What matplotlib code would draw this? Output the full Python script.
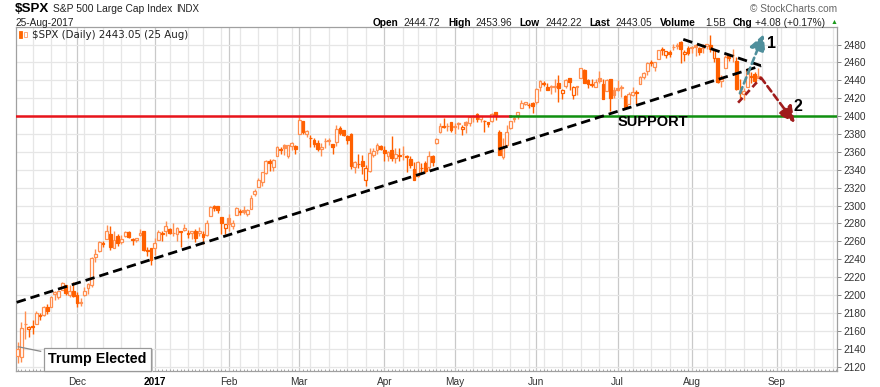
import numpy as np
import pandas as pd
import matplotlib
matplotlib.use("Agg")
import matplotlib.pyplot as plt
from matplotlib.patches import Rectangle

# ---------------- data ----------------
holidays = ['2016-11-24', '2016-12-26', '2017-01-02', '2017-01-16', '2017-02-20',
            '2017-04-14', '2017-05-29', '2017-07-04', '2017-09-04']

opens = [2132, 2131, 2167, 2162, 2165, 2168, 2177, 2178, 2187, 2186, 2201, 2198, 2206, 2211, 2200, 2205,
         2200, 2191, 2200, 2208, 2211, 2242, 2249, 2258, 2263, 2268, 2253, 2266, 2259, 2266, 2270, 2263,
         2261, 2267, 2271, 2250, 2252,
         2252, 2261, 2268, 2271, 2274, 2269, 2268, 2271, 2273, 2269, 2269, 2272, 2269, 2268, 2267, 2288,
         2299, 2299, 2287, 2275,
         2286, 2277, 2289, 2294, 2295, 2290, 2296, 2313, 2321, 2326, 2336, 2350, 2343, 2355, 2362, 2368,
         2355, 2366, 2367,
         2380, 2394, 2380, 2376, 2373, 2370, 2363, 2372, 2372, 2369, 2371, 2387, 2384, 2378, 2380, 2343,
         2346, 2350, 2329, 2339, 2357, 2362, 2366,
         2362, 2355, 2362, 2353, 2356, 2358, 2355, 2352, 2341, 2333, 2342, 2347, 2343, 2355, 2370, 2382,
         2389, 2389, 2393,
         2388, 2392, 2386, 2393, 2392, 2399, 2402, 2397, 2394, 2393, 2394, 2405, 2382, 2354, 2368, 2387,
         2397, 2401, 2409, 2414, 2412, 2415,
         2416, 2432, 2437, 2432, 2432, 2433, 2437, 2426, 2434, 2443, 2424, 2432, 2443, 2452, 2440, 2436,
         2433, 2443, 2436, 2428, 2442, 2429,
         2431, 2431, 2423, 2414, 2424, 2427, 2436, 2444, 2450, 2460, 2455, 2464, 2475, 2468, 2472, 2477,
         2480, 2483, 2469, 2476,
         2477, 2480, 2476, 2476, 2478, 2479, 2465, 2465, 2439, 2454, 2469, 2468, 2462, 2427, 2425, 2433,
         2445, 2447, 2444.7]

highs = [2147, 2170, 2182, 2165, 2172, 2182, 2180, 2188, 2190, 2199, 2204, 2205, 2214, 2211, 2211, 2214,
         2203, 2197, 2209, 2213, 2242, 2251, 2260, 2260, 2278, 2277, 2272, 2268, 2267, 2272, 2271, 2264,
         2264, 2274, 2272, 2254, 2253,
         2264, 2273, 2271, 2283, 2275, 2280, 2276, 2272, 2279, 2273, 2272, 2274, 2276, 2272, 2284, 2299,
         2301, 2299, 2287, 2279,
         2290, 2284, 2298, 2296, 2300, 2296, 2312, 2319, 2331, 2338, 2351, 2352, 2352, 2367, 2365, 2369,
         2368, 2371, 2368,
         2401, 2394, 2385, 2379, 2375, 2373, 2370, 2376, 2375, 2369, 2390, 2389, 2385, 2379, 2381, 2350,
         2358, 2357, 2345, 2364, 2364, 2370, 2368,
         2366, 2361, 2378, 2364, 2364, 2367, 2356, 2355, 2349, 2350, 2348, 2350, 2361, 2356, 2376, 2392,
         2398, 2392, 2393,
         2392, 2393, 2390, 2394, 2400, 2401, 2404, 2400, 2396, 2393, 2404, 2405, 2385, 2376, 2390, 2395,
         2400, 2405, 2418, 2416, 2415, 2416,
         2431, 2440, 2439, 2437, 2435, 2441, 2446, 2430, 2441, 2443, 2434, 2434, 2454, 2453, 2442, 2441,
         2441, 2450, 2441, 2442, 2442, 2432,
         2440, 2435, 2424, 2427, 2432, 2429, 2445, 2449, 2460, 2463, 2461, 2474, 2477, 2473, 2474, 2481,
         2482, 2484, 2474, 2478,
         2478, 2481, 2477, 2481, 2481, 2491, 2475, 2465, 2446, 2468, 2469, 2475, 2466, 2441, 2431, 2454,
         2449, 2449, 2454.0]

lows = [2124, 2125, 2151, 2153, 2156, 2168, 2172, 2176, 2179, 2186, 2194, 2195, 2206, 2200, 2198, 2198,
        2187, 2188, 2199, 2201, 2209, 2237, 2248, 2254, 2263, 2250, 2252, 2255, 2257, 2265, 2264, 2256,
        2259, 2266, 2249, 2244, 2233,
        2245, 2261, 2260, 2266, 2268, 2266, 2260, 2254, 2272, 2264, 2263, 2259, 2266, 2257, 2266, 2288,
        2294, 2292, 2268, 2268,
        2271, 2274, 2289, 2289, 2290, 2288, 2296, 2311, 2321, 2322, 2335, 2339, 2339, 2355, 2358, 2356,
        2353, 2362, 2358,
        2380, 2380, 2377, 2365, 2365, 2361, 2355, 2364, 2368, 2358, 2366, 2379, 2378, 2369, 2341, 2336,
        2342, 2335, 2322, 2337, 2354, 2358, 2362,
        2350, 2350, 2350, 2348, 2350, 2351, 2338, 2342, 2328, 2332, 2335, 2336, 2340, 2344, 2369, 2381,
        2387, 2383, 2382,
        2380, 2386, 2379, 2381, 2389, 2393, 2393, 2393, 2382, 2388, 2393, 2396, 2356, 2352, 2367, 2386,
        2393, 2397, 2409, 2412, 2409, 2403,
        2413, 2428, 2434, 2429, 2425, 2427, 2416, 2419, 2431, 2429, 2419, 2424, 2443, 2437, 2431, 2432,
        2432, 2437, 2419, 2428, 2406, 2420,
        2428, 2421, 2408, 2413, 2422, 2413, 2436, 2442, 2446, 2456, 2450, 2464, 2468, 2465, 2466, 2474,
        2475, 2459, 2462, 2468,
        2471, 2467, 2468, 2470, 2475, 2472, 2461, 2437, 2432, 2454, 2462, 2460, 2429, 2420, 2418, 2433,
        2437, 2437, 2442.2]

closes = [2139.6, 2163.3, 2167.5, 2164.5, 2164.2, 2180.4, 2176.9, 2187.1, 2181.9, 2198.2, 2202.9, 2204.7,
          2213.4, 2201.7, 2204.7, 2198.8,
          2191.1, 2192.0, 2204.7, 2212.2, 2241.4, 2246.2, 2259.5, 2257.0, 2271.7, 2253.3, 2262.0, 2258.1,
          2262.5, 2270.8, 2265.2, 2261.0, 2263.8, 2268.9, 2249.9, 2249.3, 2238.8,
          2257.8, 2270.8, 2269.0, 2277.0, 2268.9, 2268.9, 2275.3, 2270.4, 2274.6, 2267.9, 2271.9, 2263.7,
          2271.3, 2265.2, 2280.1, 2298.4, 2296.7, 2294.7, 2280.9, 2278.9,
          2279.6, 2280.9, 2297.4, 2292.6, 2293.1, 2294.7, 2307.9, 2316.1, 2328.3, 2337.6, 2349.3, 2347.2,
          2351.2, 2365.4, 2362.8, 2363.8, 2367.3, 2369.8, 2363.6,
          2396.0, 2381.9, 2383.1, 2375.3, 2368.4, 2363.0, 2364.9, 2372.6, 2373.5, 2365.5, 2385.3, 2381.4,
          2378.3, 2373.5, 2344.0, 2348.5, 2346.0, 2344.0, 2341.6, 2358.6, 2361.1, 2368.1, 2362.7,
          2358.8, 2360.2, 2353.0, 2357.5, 2355.5, 2357.2, 2353.8, 2344.9, 2329.0, 2349.0, 2342.2, 2338.2,
          2355.8, 2348.7, 2374.2, 2388.6, 2387.5, 2388.8, 2384.2,
          2388.3, 2391.2, 2388.1, 2389.5, 2399.3, 2399.4, 2396.9, 2399.6, 2394.4, 2390.9, 2402.3, 2400.7,
          2357.0, 2365.7, 2381.7, 2394.0, 2398.4, 2404.4, 2415.1, 2415.8, 2412.9, 2411.8,
          2430.1, 2439.1, 2436.1, 2429.3, 2433.1, 2433.8, 2431.8, 2429.4, 2440.4, 2437.9, 2432.5, 2433.2,
          2453.5, 2437.0, 2435.6, 2434.5, 2438.3, 2439.1, 2419.4, 2440.7, 2419.7, 2423.4,
          2429.0, 2432.5, 2409.8, 2425.2, 2427.4, 2425.5, 2443.3, 2447.8, 2459.3, 2459.1, 2460.6, 2473.8,
          2473.5, 2472.5, 2469.9, 2477.1, 2477.8, 2475.4, 2472.1, 2470.3,
          2476.4, 2477.6, 2472.2, 2476.8, 2480.9, 2474.9, 2474.0, 2438.2, 2441.3, 2465.8, 2464.6, 2468.1,
          2430.0, 2425.6, 2428.4, 2452.5, 2444.0, 2439.0, 2443.05]

y_ticks = [2120, 2140, 2160, 2180, 2200, 2220, 2240, 2260, 2280, 2300, 2320, 2340, 2360, 2380,
           2400, 2420, 2440, 2460, 2480]
support_level = 2400

# dates (trading days) incl. future days for the right margin of the axis
all_days = pd.bdate_range('2016-11-08', '2017-09-29')
all_days = all_days[~all_days.isin(pd.to_datetime(holidays))]
n = len(closes)

# ---------------- figure ----------------
W, H = 880, 387
fig = plt.figure(figsize=(W / 100, H / 100), dpi=100)
plt.rcParams['font.family'] = ['Liberation Sans', 'DejaVu Sans']

L, R, T, B = 16, 837, 27, 371
ax = fig.add_axes([L / W, 1 - B / H, (R - L) / W, (B - T) / H])
ax.set_xlim(-0.46, 221.2)
ax.set_ylim(2115.0, 2499.6)

# grid: weekly lines & month lines
weeks = all_days.to_series().dt.isocalendar().week.values
years = all_days.year
months = all_days.month
for i in range(1, len(all_days)):
    if months[i] != months[i - 1]:
        ax.axvline(i, color='#c9c9c9', lw=0.9, zorder=0)
    elif weeks[i] != weeks[i - 1]:
        ax.axvline(i, color='#e6e6e6', lw=0.9, zorder=0)
for yv in y_ticks:
    ax.axhline(yv, color='#e6e6e6', lw=0.9, zorder=0)

# candles
up_col = '#ff8f50'
dn_col = '#ff6000'
w = 0.75
for i in range(n):
    o, h, l, c = opens[i], highs[i], lows[i], closes[i]
    prev = closes[i - 1] if i > 0 else o
    col = dn_col if c < prev else up_col
    ax.vlines(i, min(l, o, c), max(h, o, c), color=col, lw=1.0, zorder=3)
    fill = col if c < o else 'white'
    ax.add_patch(Rectangle((i - w / 2, min(o, c)), w, max(abs(c - o), 0.5),
                           facecolor=fill, edgecolor=col, lw=0.9, zorder=4))

# support line
split = 132.9
ax.plot([-0.46, split], [support_level, support_level], color='#e8141b', lw=1.8, zorder=5)
ax.plot([split, 221.2], [support_level, support_level], color='#109010', lw=1.8, zorder=5)

# trend lines
dash = (0, (3.4, 1.8))
ax.plot([-0.27, 200.7], [2191.8, 2456.3], color='black', lw=2.0, ls=dash, zorder=6)
ax.plot([179.7, 200.7], [2485.8, 2456.3], color='black', lw=2.0, ls=dash, zorder=6)

# scenario arrows
aprops = dict(arrowstyle='-|>,head_length=0.75,head_width=0.38', lw=1.9,
              ls=(0, (2.5, 1.5)), shrinkA=0, shrinkB=0, mutation_scale=13)
teal = '#4f8f9c'
ax.annotate('', xy=(201.4, 2491.5), xytext=(195.0, 2425.5),
            arrowprops=dict(color=teal, **aprops), zorder=7)
dred = '#a01c1c'
ax.plot([194.5, 200.7], [2415.0, 2442.9], color=dred, lw=1.9, ls=(0, (2.5, 1.5)), zorder=7)
ax.annotate('', xy=(209.8, 2392.5), xytext=(200.7, 2442.9),
            arrowprops=dict(color=dred, **aprops), zorder=7)
ax.text(203.6, 2480.6, '1', fontsize=11.5, fontweight='bold', ha='center', va='center', zorder=8)
ax.text(210.7, 2410.5, '2', fontsize=11.5, fontweight='bold', ha='center', va='center', zorder=8)
ax.text(171.4, 2393.2, 'SUPPORT', fontsize=10.5, fontweight='bold', ha='center', va='center', zorder=8)

# Trump Elected callout
ax.plot([0.16, 6.2], [2142.1, 2137.0], color='#888888', lw=0.9, zorder=8)
ax.text(21.5, 2128.2, 'Trump Elected', fontsize=10.3, fontweight='bold', ha='center', va='center',
        color='none', zorder=8,
        bbox=dict(boxstyle='square,pad=0.32', fc='#c8c8c8', ec='none'),
        transform=ax.transData + matplotlib.transforms.ScaledTranslation(1.5 / 100, -1.5 / 100,
                                                                         fig.dpi_scale_trans))
ax.text(21.5, 2128.2, 'Trump Elected', fontsize=10.3, fontweight='bold', ha='center', va='center',
        zorder=9, bbox=dict(boxstyle='square,pad=0.32', fc='white', ec='#999999', lw=0.9))

# axes styling
for s in ax.spines.values():
    s.set_color('#a0a0a0')
    s.set_linewidth(0.9)
ax.yaxis.tick_right()
ax.set_yticks(y_ticks)
ax.set_yticklabels([str(v) for v in y_ticks], fontsize=7.3, color='#333333')
ax.tick_params(axis='y', length=3, width=0.7, color='#888888', pad=1.5)

month_pos, month_lab = [], []
for i in range(1, len(all_days)):
    if months[i] != months[i - 1]:
        month_pos.append(i)
        month_lab.append(str(years[i]) if months[i] == 1 else all_days[i].strftime('%b'))
ax.set_xticks(month_pos)
ax.set_xticklabels(month_lab, fontsize=7.3, color='#333333')
for t in ax.get_xticklabels():
    if t.get_text().isdigit():
        t.set_fontweight('bold')
        t.set_color('black')
ax.tick_params(axis='x', length=0, pad=4)
ax.set_xticks(np.arange(0, 222), minor=True)
ax.tick_params(axis='x', which='minor', length=1.5, width=0.6, color='#999999', direction='in')


# ---------------- header texts ----------------
def ftxt(x, y, s, **kw):
    fig.text(x / W, 1 - y / H, s, va='center', ha=kw.pop('ha', 'left'), **kw)


ftxt(15, 8.5, '$SPX', fontsize=9.6, fontweight='bold')
ftxt(52.5, 8.5, 'S&P 500 Large Cap Index', fontsize=7.4, color='#222222')
ftxt(176.5, 8.5, 'INDX', fontsize=7.0, color='#222222')
ftxt(15, 22.5, '25-Aug-2017', fontsize=7.3, color='#222222')
ftxt(837, 8.5, '\u00a9 StockCharts.com', fontsize=7.3, color='#666666', ha='right')

hdr = [(372.7, 'Open', True), (403.3, '2444.72', False), (448.3, 'High', True), (475.0, '2453.96', False),
       (519.0, 'Low', True), (545.7, '2442.22', False), (589.0, 'Last', True), (615.7, '2443.05', False),
       (660.0, 'Volume', True), (705.7, '1.5B', False), (732.3, 'Chg', True),
       (755.0, '+4.08 (+0.17%)', False)]
for x, s, b in hdr:
    ftxt(x, 22.5, s, fontsize=7.3, fontweight='bold' if b else 'normal',
         color='black' if b else '#222222')
ftxt(830.5, 22.5, '\u25b2', fontsize=5, color='#1a9a1a')

# legend
fig.add_artist(Rectangle((19 / W, 1 - 37.5 / H), 3 / W, 6 / H, transform=fig.transFigure,
                         facecolor='#ff6600', edgecolor='#ff6600', lw=0.6))
fig.add_artist(Rectangle((24 / W, 1 - 36.5 / H), 3 / W, 5 / H, transform=fig.transFigure,
                         facecolor='white', edgecolor='#ff9c66', lw=0.6))
ftxt(31.5, 34.5, '$SPX (Daily) 2443.05 (25 Aug)', fontsize=7.4, family=['DejaVu Sans'],
     color='#222222')

fig.savefig('out.png', dpi=100)
